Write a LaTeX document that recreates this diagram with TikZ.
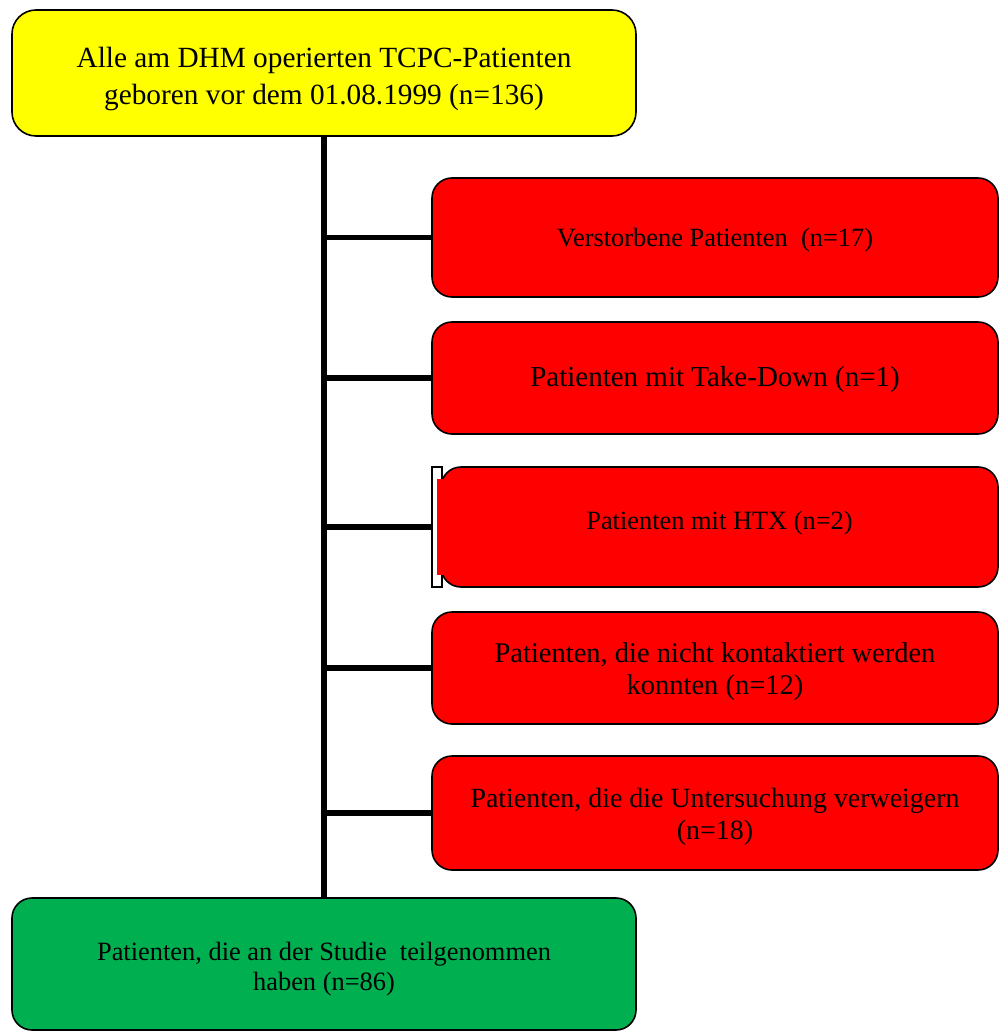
\documentclass[tikz,border=0pt]{standalone}
\usepackage{fontspec}
\setmainfont{Liberation Serif}
\definecolor{boxyellow}{HTML}{FFFF00}
\definecolor{boxred}{HTML}{FF0000}
\definecolor{boxgreen}{HTML}{00B050}
\newcommand{\btxt}[2]{\raisebox{#1}[\height][\depth]{\begin{tabular}{@{}c@{}}#2\end{tabular}}}
\begin{document}
\begin{tikzpicture}[x=1pt,y=-1pt,
  box/.style={draw=black,line width=1.6pt,rounded corners=20pt,inner sep=0pt,align=center,anchor=center},
  smalltxt/.style={font=\fontsize{26.4}{30}\selectfont},
  wide/.style={minimum width=624pt},
  side/.style={minimum width=566pt},
  conn/.style={line width=5.6pt},
  trunk/.style={line width=6.5pt}]
\useasboundingbox (0,0) rectangle (1000,1032);
\node[box,wide,fill=boxyellow,minimum height=126pt,rounded corners=24pt,font=\fontsize{29.3}{37}\selectfont] (top) at (324,73) {\btxt{-6pt}{Alle am DHM operierten TCPC-Patienten\\ geboren vor dem 01.08.1999 (n=136)}};
\node[box,side,fill=boxred,minimum height=119pt,smalltxt] (dead) at (715,237.5) {\btxt{-3pt}{Verstorbene Patienten~ (n=17)}};
\node[box,side,fill=boxred,minimum height=112pt,font=\fontsize{29}{32}\selectfont] (take) at (715,378) {\btxt{-2pt}{Patienten mit Take-Down (n=1)}};
\node[draw=black,line width=1.2pt,fill=white,minimum width=10pt,minimum height=120pt,inner sep=0pt] (htxtab) at (437,527) {};
\node[box,minimum width=557pt,fill=boxred,minimum height=120pt,smalltxt] (htx) at (719.5,527) {\btxt{4pt}{Patienten mit HTX (n=2)}};
\node[fill=boxred,minimum width=8pt,minimum height=96pt,inner sep=0pt] (htxpatch) at (441,527) {};
\node[box,side,fill=boxred,minimum height=112pt,font=\fontsize{28.5}{32}\selectfont] (contact) at (715,668) {\btxt{-4pt}{Patienten, die nicht kontaktiert werden\\ konnten (n=12)}};
\node[box,side,fill=boxred,minimum height=114pt,font=\fontsize{27.9}{32}\selectfont] (refuse) at (715,813) {\btxt{-4pt}{Patienten, die die Untersuchung verweigern\\ (n=18)}};
\node[box,wide,fill=boxgreen,minimum height=132pt,smalltxt] (study) at (324,964) {\btxt{-5pt}{Patienten, die an der Studie~ teilgenommen\\ haben (n=86)}};
\draw[trunk] (top.south) -- (study.north);
\draw[conn] (dead.west -| top.south) -- (dead.west);
\draw[conn] (take.west -| top.south) -- (take.west);
\draw[conn] (htxtab.west -| top.south) -- (htxtab.west);
\draw[conn] (contact.west -| top.south) -- (contact.west);
\draw[conn] (refuse.west -| top.south) -- (refuse.west);
\end{tikzpicture}
\end{document}
